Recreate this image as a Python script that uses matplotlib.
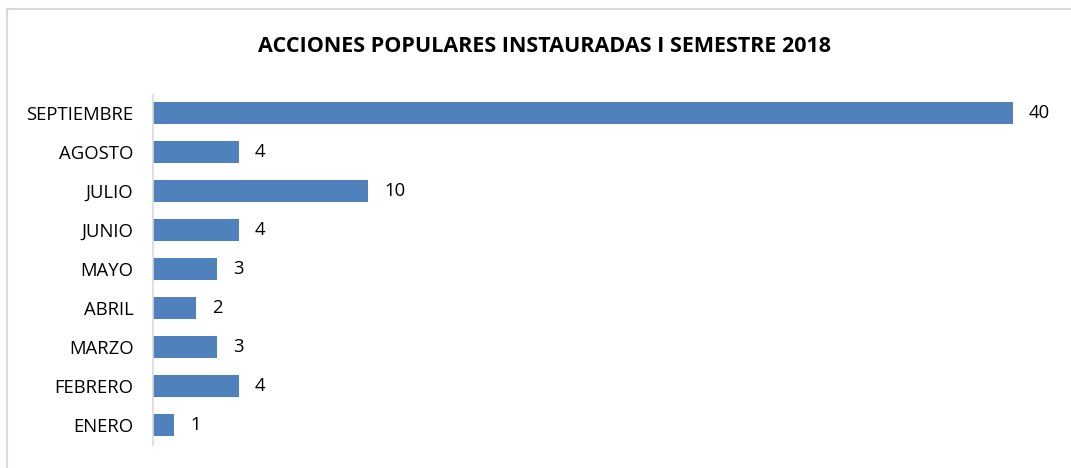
import matplotlib.pyplot as plt
from matplotlib.lines import Line2D

meses = ["ENERO", "FEBRERO", "MARZO", "ABRIL", "MAYO", "JUNIO", "JULIO", "AGOSTO", "SEPTIEMBRE"]
acciones = [1, 4, 3, 2, 3, 4, 10, 4, 40]

W, H = 1071, 468
fig = plt.figure(figsize=(W / 100, H / 100), dpi=100)
plt.rcParams['font.family'] = ['Open Sans', 'DejaVu Sans']

ax = fig.add_axes([153 / W, 1 - 445 / H, (1060 - 153) / W, (445 - 95) / H])
bars = ax.barh(range(len(meses)), acciones, height=0.56, color="#4F81BD")
ax.set_xlim(0, 42.2)
ax.set_ylim(-0.51, 8.46)
ax.set_yticks(range(len(meses)))
ax.set_yticklabels(meses, fontsize=13.3)
ax.tick_params(axis="y", length=0, pad=14)
ax.set_xticks([])
for s in ["top", "right", "bottom"]:
    ax.spines[s].set_visible(False)
ax.spines["left"].set_color("#D9D9D9")
ax.spines["left"].set_linewidth(1.2)

for i, v in enumerate(acciones):
    ax.annotate(str(v), (v, i), xytext=(11.5, 0), textcoords="offset points",
                va="center", ha="left", fontsize=13.3)

fig.text(545 / W, 1 - 47 / H, "ACCIONES POPULARES INSTAURADAS I SEMESTRE 2018",
         ha="center", va="center", fontsize=15.5, fontweight="bold")

# chart frame (only top and left edges visible in the original)
fig.add_artist(Line2D([7 / W, 1], [1 - 9 / H, 1 - 9 / H], transform=fig.transFigure,
                      color="#D9D9D9", lw=1.5))
fig.add_artist(Line2D([7 / W, 7 / W], [0, 1 - 9 / H], transform=fig.transFigure,
                      color="#D9D9D9", lw=1.5))

fig.savefig("out.png", dpi=100)
